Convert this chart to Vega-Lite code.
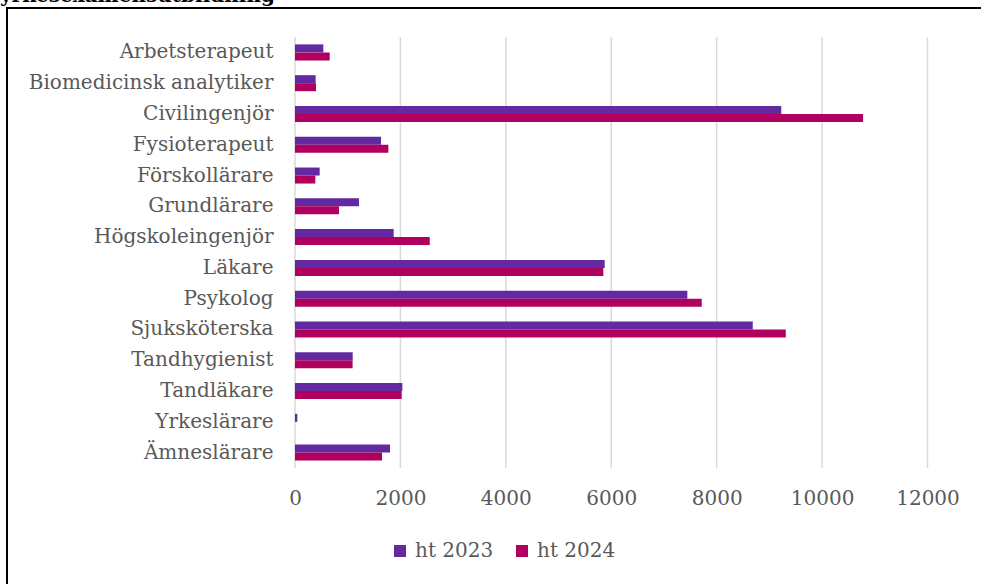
{
  "$schema": "https://vega.github.io/schema/vega-lite/v6.json",
  "autosize": "none",
  "padding": {"left": 7, "top": 8, "right": 0, "bottom": 0},
  "width": 983,
  "height": 600,
  "title": {"text": "yrkesexamensutbildning", "anchor": "start", "frame": "group", "dx": -7, "offset": -14, "baseline": "alphabetic", "font": "DejaVu Serif", "fontSize": 20, "fontWeight": "bold", "color": "#000000"},
  "config": {
    "view": {"stroke": "#000000", "strokeWidth": 2},
    "font": "DejaVu Serif"
  },
  "datasets": {
    "grid": [{"v": 0}, {"v": 2000}, {"v": 4000}, {"v": 6000}, {"v": 8000}, {"v": 10000}, {"v": 12000}],
    "bars": [
      {"utbildning": "Arbetsterapeut", "termin": "ht 2023", "antal": 538},
      {"utbildning": "Arbetsterapeut", "termin": "ht 2024", "antal": 658},
      {"utbildning": "Biomedicinsk analytiker", "termin": "ht 2023", "antal": 392},
      {"utbildning": "Biomedicinsk analytiker", "termin": "ht 2024", "antal": 398},
      {"utbildning": "Civilingenjör", "termin": "ht 2023", "antal": 9226},
      {"utbildning": "Civilingenjör", "termin": "ht 2024", "antal": 10778},
      {"utbildning": "Fysioterapeut", "termin": "ht 2023", "antal": 1632},
      {"utbildning": "Fysioterapeut", "termin": "ht 2024", "antal": 1771},
      {"utbildning": "Förskollärare", "termin": "ht 2023", "antal": 468},
      {"utbildning": "Förskollärare", "termin": "ht 2024", "antal": 386},
      {"utbildning": "Grundlärare", "termin": "ht 2023", "antal": 1214},
      {"utbildning": "Grundlärare", "termin": "ht 2024", "antal": 835},
      {"utbildning": "Högskoleingenjör", "termin": "ht 2023", "antal": 1872},
      {"utbildning": "Högskoleingenjör", "termin": "ht 2024", "antal": 2556},
      {"utbildning": "Läkare", "termin": "ht 2023", "antal": 5876},
      {"utbildning": "Läkare", "termin": "ht 2024", "antal": 5850},
      {"utbildning": "Psykolog", "termin": "ht 2023", "antal": 7444},
      {"utbildning": "Psykolog", "termin": "ht 2024", "antal": 7717},
      {"utbildning": "Sjuksköterska", "termin": "ht 2023", "antal": 8685},
      {"utbildning": "Sjuksköterska", "termin": "ht 2024", "antal": 9311},
      {"utbildning": "Tandhygienist", "termin": "ht 2023", "antal": 1095},
      {"utbildning": "Tandhygienist", "termin": "ht 2024", "antal": 1093},
      {"utbildning": "Tandläkare", "termin": "ht 2023", "antal": 2037},
      {"utbildning": "Tandläkare", "termin": "ht 2024", "antal": 2024},
      {"utbildning": "Yrkeslärare", "termin": "ht 2023", "antal": 44},
      {"utbildning": "Yrkeslärare", "termin": "ht 2024", "antal": 0},
      {"utbildning": "Ämneslärare", "termin": "ht 2023", "antal": 1803},
      {"utbildning": "Ämneslärare", "termin": "ht 2024", "antal": 1651}
    ]
  },
  "encoding": {
    "y": {
      "field": "utbildning", "type": "nominal", "title": null,
      "scale": {
        "domain": ["Arbetsterapeut", "Biomedicinsk analytiker", "Civilingenjör", "Fysioterapeut", "Förskollärare", "Grundlärare", "Högskoleingenjör", "Läkare", "Psykolog", "Sjuksköterska", "Tandhygienist", "Tandläkare", "Yrkeslärare", "Ämneslärare"],
        "range": [29, 460], "paddingInner": 0, "paddingOuter": 0
      },
      "axis": {"orient": "left", "offset": -288, "domain": false, "ticks": false, "tickSize": 0, "grid": false, "labelPadding": 22, "labelFontSize": 20, "labelLimit": 0, "labelColor": "#595959", "labelFont": "DejaVu Serif"}
    }
  },
  "layer": [
    {
      "data": {"name": "grid"},
      "mark": {"type": "rule", "color": "#d9d9d9", "strokeWidth": 1.5},
      "encoding": {
        "x": {"field": "v", "type": "quantitative", "scale": {"domain": [-5464, 13186], "nice": false, "zero": false},
          "axis": {"orient": "bottom", "offset": -140, "values": [0, 2000, 4000, 6000, 8000, 10000, 12000], "format": "d", "domain": false, "ticks": false, "tickSize": 0, "grid": false, "labelPadding": 20, "labelFontSize": 20, "labelColor": "#595959", "labelFont": "DejaVu Serif", "title": null, "labelFlush": false}},
        "y": {"datum": "Arbetsterapeut", "bandPosition": 0},
        "y2": {"datum": "Ämneslärare", "bandPosition": 1}
      }
    },
    {
      "data": {"name": "bars"},
      "mark": {"type": "bar"},
      "encoding": {
        "x": {"field": "antal", "type": "quantitative"},
        "yOffset": {"field": "termin", "type": "nominal", "scale": {"paddingInner": 0, "paddingOuter": 0.924}},
        "color": {"field": "termin", "type": "nominal",
          "scale": {"domain": ["ht 2023", "ht 2024"], "range": ["#6229a0", "#af005f"]},
          "legend": {"title": null, "orient": "none", "direction": "horizontal", "legendX": 383, "legendY": 533, "symbolType": "square", "symbolSize": 144, "symbolStrokeWidth": 0, "symbolOpacity": 1, "labelFontSize": 20, "labelColor": "#595959", "labelFont": "DejaVu Serif", "labelOffset": 5, "columnPadding": 18}
        }
      }
    }
  ]
}
